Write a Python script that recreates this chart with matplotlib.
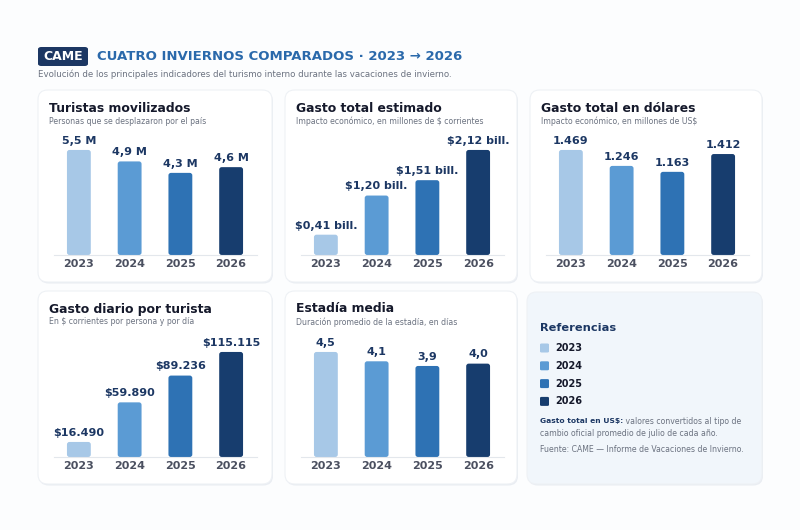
import matplotlib
matplotlib.use("Agg")
import matplotlib.pyplot as plt
from matplotlib.patches import FancyBboxPatch

# data
years = ["2023", "2024", "2025", "2026"]
colors = ["#a7c8e7", "#5b9bd4", "#2e72b4", "#173d6e"]

turistas = [5.5, 4.9, 4.3, 4.6]
turistas_lbl = ["5,5 M", "4,9 M", "4,3 M", "4,6 M"]
gasto_total = [0.41, 1.20, 1.51, 2.12]
gasto_total_lbl = ["$0,41 bill.", "$1,20 bill.", "$1,51 bill.", "$2,12 bill."]
gasto_usd = [1469, 1246, 1163, 1412]
gasto_usd_lbl = ["1.469", "1.246", "1.163", "1.412"]
gasto_diario = [16490, 59890, 89236, 115115]
gasto_diario_lbl = ["$16.490", "$59.890", "$89.236", "$115.115"]
estadia = [4.5, 4.1, 3.9, 4.0]
estadia_lbl = ["4,5", "4,1", "3,9", "4,0"]

W, H = 800, 530
NAVY = "#1c3763"
GRAY = "#6b7280"

fig = plt.figure(figsize=(W / 100, H / 100), dpi=100)
fig.patch.set_facecolor("#fcfdfe")


def fx(px):
    return px / W


def fy(py):
    return 1 - py / H


def panel(x0, y0, x1, y1, face="white"):
    sh = FancyBboxPatch((fx(x0 + 1), fy(y1 + 1.5)), fx(x1 - x0), (y1 - y0) / H,
                        boxstyle="round,pad=0,rounding_size=0.012",
                        transform=fig.transFigure, facecolor="#e9edf2",
                        edgecolor="none", zorder=0, mutation_aspect=W / H)
    fig.patches.append(sh)
    p = FancyBboxPatch((fx(x0), fy(y1)), fx(x1 - x0), (y1 - y0) / H,
                       boxstyle="round,pad=0,rounding_size=0.012",
                       transform=fig.transFigure, facecolor=face,
                       edgecolor="#eef1f5", lw=0.8, zorder=1, mutation_aspect=W / H)
    fig.patches.append(p)


# header
badge = FancyBboxPatch((fx(38), fy(66)), fx(50), 19 / H,
                       boxstyle="round,pad=0,rounding_size=0.004",
                       transform=fig.transFigure, facecolor=NAVY, edgecolor="none")
fig.patches.append(badge)
fig.text(fx(63), fy(56.5), "CAME", color="white", fontsize=9, fontweight="bold",
         ha="center", va="center")
fig.text(fx(97), fy(56.5), "CUATRO INVIERNOS COMPARADOS · 2023 → 2026", color="#2a69ab",
         fontsize=9.5, fontweight="bold", ha="left", va="center")
fig.text(fx(38), fy(74), "Evolución de los principales indicadores del turismo interno "
         "durante las vacaciones de invierno.", color=GRAY, fontsize=6.2, ha="left", va="center")

charts = [
    ((38, 90, 272, 282), "Turistas movilizados", "Personas que se desplazaron por el país",
     turistas, turistas_lbl),
    ((285, 90, 517, 282), "Gasto total estimado", "Impacto económico, en millones de $ corrientes",
     gasto_total, gasto_total_lbl),
    ((530, 90, 762, 282), "Gasto total en dólares", "Impacto económico, en millones de US$",
     gasto_usd, gasto_usd_lbl),
    ((38, 291, 272, 484), "Gasto diario por turista", "En $ corrientes por persona y por día",
     gasto_diario, gasto_diario_lbl),
    ((285, 291, 517, 484), "Estadía media", "Duración promedio de la estadía, en días",
     estadia, estadia_lbl),
]

for (x0, y0, x1, y1), title, sub, vals, lbls in charts:
    panel(x0, y0, x1, y1)
    fig.text(fx(x0 + 11), fy(y0 + 18), title, color="#15192b", fontsize=8.9,
             fontweight="bold", ha="left", va="center")
    fig.text(fx(x0 + 11), fy(y0 + 31), sub, color=GRAY, fontsize=5.6, ha="left", va="center")

    base = y0 + 165 if y0 < 200 else y0 + 166
    top = base - 125
    cx = (x0 + x1) / 2 + (1 if x0 > 200 else 0)
    ax = fig.add_axes([fx(cx - 101.5), fy(base), 203 / W, (base - top) / H])
    ax.set_zorder(3)
    ax.set_facecolor("none")
    ymax = max(vals) * 1.19
    ax.set_xlim(-0.5, 3.5)
    ax.set_ylim(0, ymax)
    # aspect to keep rounded corners circular
    asp = (ymax / 125) / (4 / 203)
    bars = ax.bar(range(len(vals)), vals, width=0.47, color=colors)
    for b, c in zip(bars, colors):
        b.set_visible(False)
        r = FancyBboxPatch((b.get_x(), 0), b.get_width(), b.get_height(),
                           boxstyle="round,pad=0,rounding_size=0.05",
                           mutation_aspect=asp, facecolor=c, edgecolor="none", zorder=2)
        ax.add_patch(r)
    for i, (v, t) in enumerate(zip(vals, lbls)):
        ax.annotate(t, (i, v), xytext=(0, 3), textcoords="offset points", ha="center",
                    va="bottom", fontsize=8, fontweight="bold", color=NAVY)
    ax.set_xticks(range(len(vals)))
    ax.set_xticklabels(years, fontsize=8, fontweight="bold", color="#4b5060")
    ax.tick_params(axis="x", length=0, pad=3)
    ax.set_yticks([])
    for s in ["top", "right", "left"]:
        ax.spines[s].set_visible(False)
    ax.spines["bottom"].set_color("#e3e7ec")
    ax.spines["bottom"].set_linewidth(0.8)

# legend panel
panel(527, 292, 762, 484, face="#f1f6fb")
fig.text(fx(540), fy(328), "Referencias", color=NAVY, fontsize=8.2, fontweight="bold",
         ha="left", va="center")
for i, (yr, c) in enumerate(zip(years, colors)):
    yy = 348 + i * 17.8
    sq = FancyBboxPatch((fx(540), fy(yy + 4.5)), fx(9), 9 / H,
                        boxstyle="round,pad=0,rounding_size=0.002",
                        transform=fig.transFigure, facecolor=c, edgecolor="none")
    fig.patches.append(sq)
    fig.text(fx(555), fy(yy), yr, color="#15192b", fontsize=7, fontweight="bold",
             ha="left", va="center")

overlay = fig.add_axes([0, 0, 1, 1])
overlay.set_axis_off()
overlay.set_zorder(5)
bold = overlay.text(fx(540), fy(421), "Gasto total en US$:", color=NAVY, fontsize=5.4,
                    fontweight="bold", ha="left", va="center", transform=fig.transFigure)
overlay.annotate(" valores convertidos al tipo de", xy=(1, 0.5), xycoords=bold,
                 ha="left", va="center", fontsize=5.6, color=GRAY)
fig.text(fx(540), fy(433.5), "cambio oficial promedio de julio de cada año.", color=GRAY,
         fontsize=5.6, ha="left", va="center")
fig.text(fx(540), fy(449), "Fuente: CAME — Informe de Vacaciones de Invierno.", color=GRAY,
         fontsize=5.6, ha="left", va="center")

fig.savefig("out.png", dpi=100, facecolor=fig.get_facecolor())
